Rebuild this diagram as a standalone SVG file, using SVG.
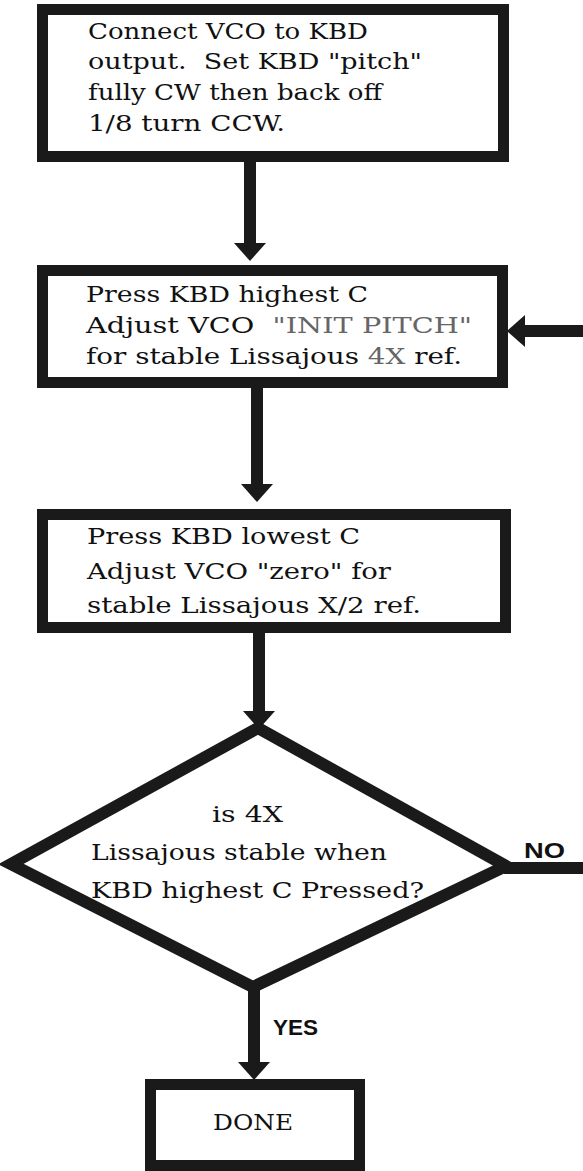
<svg xmlns="http://www.w3.org/2000/svg" width="583" height="1171" viewBox="0 0 583 1171">
<defs>
<marker id="ah" markerUnits="userSpaceOnUse" viewBox="0 0 18 32" markerWidth="18" markerHeight="32" refX="0" refY="16" orient="auto">
<path d="M0,0 L18,16 L0,32 z" fill="#1a1a1a"/>
</marker>
<style>
.box{fill:#fff;stroke:#1a1a1a;stroke-width:11}
.dia{fill:#fff;stroke:#1a1a1a;stroke-width:12;stroke-linejoin:miter}
.t{font-family:"DejaVu Serif","Liberation Serif",serif;font-size:22px;fill:#111}
.f{fill:#666}
.lbl{font-family:"Liberation Sans","DejaVu Sans",sans-serif;font-weight:bold;font-size:22px;fill:#111}
.c{stroke:#1a1a1a;stroke-width:12;fill:none}
</style>
</defs>
<rect width="583" height="1171" fill="#fff"/>
<g id="connectors">
<line class="c" x1="250" y1="160" x2="250" y2="243" marker-end="url(#ah)"/>
<line class="c" x1="257" y1="386" x2="257" y2="484" marker-end="url(#ah)"/>
<line class="c" x1="259" y1="631" x2="259" y2="711" marker-end="url(#ah)"/>
<line class="c" x1="254" y1="985" x2="254" y2="1062" marker-end="url(#ah)"/>
<line class="c" x1="583" y1="331" x2="525" y2="331" marker-end="url(#ah)"/>
<line class="c" x1="504" y1="868" x2="583" y2="868"/>
<text class="lbl" x="273" y="1035" textLength="45" lengthAdjust="spacingAndGlyphs">YES</text>
<text class="lbl" x="524" y="858" textLength="41" lengthAdjust="spacingAndGlyphs">NO</text>
</g>
<g id="box1">
<rect class="box" x="42.5" y="9.5" width="461" height="147"/>
<text class="t" x="88" y="39" textLength="280" lengthAdjust="spacingAndGlyphs">Connect VCO to KBD</text>
<text class="t" x="88" y="69" textLength="334" lengthAdjust="spacingAndGlyphs">output.&#160; Set KBD "pitch"</text>
<text class="t" x="88" y="100" textLength="294" lengthAdjust="spacingAndGlyphs">fully CW then back off</text>
<text class="t" x="88" y="131" textLength="197" lengthAdjust="spacingAndGlyphs">1/8 turn CCW.</text>
</g>
<g id="box2">
<rect class="box" x="42.5" y="270.5" width="460" height="112"/>
<text class="t" x="86" y="302" textLength="282" lengthAdjust="spacingAndGlyphs">Press KBD highest C</text>
<text class="t" x="86" y="333" textLength="386" lengthAdjust="spacingAndGlyphs">Adjust VCO&#160; <tspan class="f">"INIT PITCH"</tspan></text>
<text class="t" x="86" y="364" textLength="376" lengthAdjust="spacingAndGlyphs">for stable Lissajous <tspan class="f">4X</tspan> ref.</text>
</g>
<g id="box3">
<rect class="box" x="42.5" y="514.5" width="463" height="113"/>
<text class="t" x="87" y="544" textLength="273" lengthAdjust="spacingAndGlyphs">Press KBD lowest C</text>
<text class="t" x="87" y="579" textLength="304" lengthAdjust="spacingAndGlyphs">Adjust VCO "zero" for</text>
<text class="t" x="87" y="613" textLength="334" lengthAdjust="spacingAndGlyphs">stable Lissajous X/2 ref.</text>
</g>
<g id="decision">
<polygon class="dia" points="258,728 506,866 253,987 11,864"/>
<text class="t" x="212" y="822" textLength="71" lengthAdjust="spacingAndGlyphs">is 4X</text>
<text class="t" x="91" y="860" textLength="296" lengthAdjust="spacingAndGlyphs">Lissajous stable when</text>
<text class="t" x="91" y="898" textLength="333" lengthAdjust="spacingAndGlyphs">KBD highest C Pressed?</text>
</g>
<g id="done">
<rect class="box" x="150.5" y="1084.5" width="209" height="81"/>
<text class="t" x="213" y="1130" textLength="80" lengthAdjust="spacingAndGlyphs" fill="#333">DONE</text>
</g>
</svg>
